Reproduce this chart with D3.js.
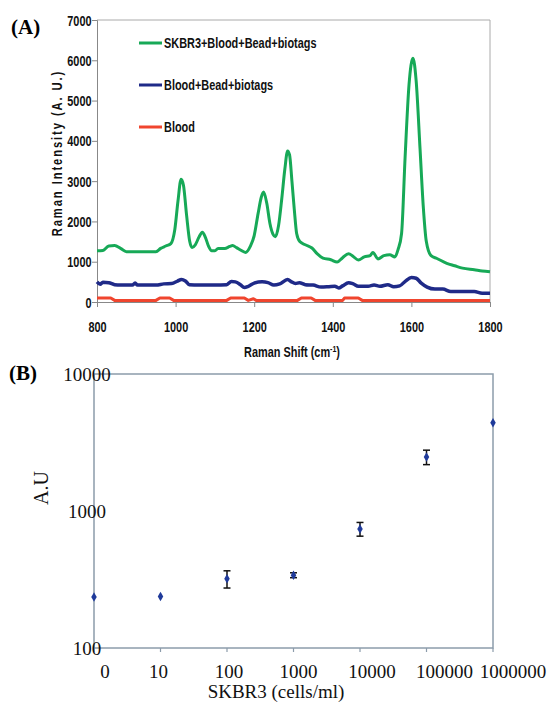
<!DOCTYPE html>
<html>
<head>
<meta charset="utf-8">
<script src="https://cdn.jsdelivr.net/npm/d3@7.9.0/dist/d3.min.js"></script>
<style>
  body { margin: 0; background: #fff; }
  .narrow { font-family: "Liberation Sans", Arial, sans-serif; font-weight: bold; }
  .serif { font-family: "Liberation Serif", "Times New Roman", serif; }
</style>
</head>
<body>
<svg id="chart" width="552" height="704"></svg>
<script>
// ---- panel A: Raman spectra ----
const skbr3Shift = [800, 815, 830, 845, 860, 875, 900, 950, 962, 975, 988, 998, 1006, 1014, 1020, 1028, 1036, 1042, 1050, 1060, 1068, 1076, 1084, 1092, 1100, 1108, 1125, 1138, 1145, 1155, 1165, 1178, 1190, 1200, 1210, 1218, 1224, 1232, 1240, 1248, 1254, 1262, 1270, 1278, 1285, 1290, 1296, 1302, 1308, 1316, 1330, 1347, 1360, 1375, 1395, 1411, 1425, 1440, 1452, 1465, 1480, 1495, 1502, 1515, 1530, 1545, 1558, 1566, 1575, 1584, 1594, 1604, 1612, 1622, 1630, 1638, 1650, 1665, 1690, 1710, 1730, 1760, 1780, 1800];
const skbr3Val = [1270, 1280, 1390, 1400, 1330, 1250, 1250, 1250, 1330, 1390, 1450, 1800, 2500, 3050, 2900, 2150, 1500, 1350, 1420, 1620, 1730, 1600, 1380, 1270, 1270, 1330, 1330, 1380, 1400, 1350, 1290, 1230, 1380, 1650, 2200, 2600, 2730, 2450, 1950, 1680, 1620, 1900, 2550, 3300, 3750, 3650, 3000, 2300, 1700, 1500, 1420, 1340, 1200, 1090, 1050, 990, 1100, 1200, 1130, 1040, 1120, 1150, 1230, 1070, 1150, 1170, 1120, 1300, 1700, 3600, 5400, 6050, 5500, 3800, 2400, 1500, 1150, 1080, 960, 900, 840, 800, 770, 750];

const beadShift = [800, 808, 815, 830, 845, 860, 890, 897, 903, 950, 970, 990, 1005, 1015, 1025, 1035, 1060, 1100, 1130, 1142, 1152, 1165, 1175, 1185, 1200, 1220, 1235, 1250, 1265, 1285, 1295, 1305, 1315, 1330, 1350, 1370, 1390, 1405, 1415, 1425, 1440, 1452, 1465, 1490, 1505, 1520, 1540, 1555, 1570, 1585, 1600, 1612, 1625, 1640, 1660, 1680, 1700, 1720, 1760, 1780, 1800];
const beadVal = [500, 440, 490, 480, 430, 420, 420, 470, 420, 420, 450, 460, 520, 560, 520, 430, 420, 420, 430, 510, 500, 430, 360, 390, 470, 500, 480, 420, 450, 560, 500, 460, 480, 430, 420, 370, 380, 390, 350, 400, 480, 450, 390, 390, 420, 390, 430, 380, 400, 520, 610, 590, 470, 370, 320, 320, 260, 260, 260, 220, 220];

const bloodShift = [800, 835, 845, 950, 960, 985, 995, 1130, 1140, 1175, 1185, 1198, 1205, 1310, 1320, 1345, 1355, 1425, 1430, 1465, 1475, 1800];
const bloodVal = [100, 100, 40, 40, 100, 100, 40, 40, 100, 100, 40, 80, 40, 40, 100, 100, 40, 40, 100, 100, 40, 40];

const seriesNames = ["SKBR3+Blood+Bead+biotags", "Blood+Bead+biotags", "Blood"];
const seriesColors = ["#17a957", "#1f2a88", "#f0452e"];
const yTicksA = [0, 1000, 2000, 3000, 4000, 5000, 6000, 7000];
const xTicksA = [800, 1000, 1200, 1400, 1600, 1800];

// ---- panel B: calibration ----
const cellConc = [1, 10, 100, 1000, 10000, 100000, 1000000];
const cellLabels = ["0", "10", "100", "1000", "10000", "100000", "1000000"];
const auMean = [236, 238, 320, 340, 740, 2480, 4400];
const auErr = [0, 0, 46, 14, 85, 300, 0];
const yTicksB = [100, 1000, 10000];

const svg = d3.select("#chart");
const squeeze = "scale(0.78,1)";

// ===== Panel A =====
const xA = d3.scaleLinear().domain([800, 1800]).range([97, 490]);
const yA = d3.scaleLinear().domain([0, 7000]).range([302, 20]);

// frame
svg.append("line").attr("x1", 97).attr("x2", 490).attr("y1", 20).attr("y2", 20).attr("stroke", "#aaa");
svg.append("line").attr("x1", 490).attr("x2", 490).attr("y1", 20).attr("y2", 302).attr("stroke", "#aaa");

const axA_y = svg.append("g").attr("transform", "translate(97,0)")
  .call(d3.axisLeft(yA).tickValues(yTicksA).tickSize(5).tickFormat(d3.format("d")));
const axA_x = svg.append("g").attr("transform", "translate(0,302)")
  .call(d3.axisBottom(xA).tickValues(xTicksA).tickSize(5).tickFormat(d3.format("d")));
[axA_y, axA_x].forEach(g => {
  g.selectAll("path, line").attr("stroke", "#888");
  g.selectAll("text").attr("class", "narrow").attr("font-size", 14).attr("fill", "#111")
    .attr("transform", squeeze);
});
axA_x.selectAll("text").attr("dy", "1.55em");
axA_y.selectAll("text").attr("x", -7).attr("dy", "0.36em");

const lineA = d3.line().x(d => xA(d[0])).y(d => yA(d[1])).curve(d3.curveMonotoneX);
const stepA = d3.line().x(d => xA(d[0])).y(d => yA(d[1]));
const specs = [
  [bloodShift, bloodVal, 2],
  [beadShift, beadVal, 1],
  [skbr3Shift, skbr3Val, 0]
];
specs.forEach(([xs, vs, i]) => {
  svg.append("path")
    .datum(xs.map((x, k) => [x, vs[k]]))
    .attr("d", i === 2 ? stepA : lineA)
    .attr("fill", "none")
    .attr("stroke", seriesColors[i])
    .attr("stroke-width", i === 1 ? 3.5 : 3)
    .attr("stroke-linejoin", "round");
});

// legend
seriesNames.forEach((name, i) => {
  const y = 43 + i * 42;
  svg.append("line").attr("x1", 139).attr("x2", 162).attr("y1", y).attr("y2", y)
    .attr("stroke", seriesColors[i]).attr("stroke-width", 3);
  svg.append("text").attr("class", "narrow")
    .attr("transform", `translate(164,${y + 5}) ${squeeze}`)
    .attr("font-size", 14).attr("fill", "#111").text(name);
});

svg.append("text").attr("class", "narrow")
  .attr("transform", "translate(62,153) rotate(-90) scale(0.8,1)")
  .attr("text-anchor", "middle").attr("font-size", 14).attr("letter-spacing", 2.4)
  .attr("fill", "#111").text("Raman Intensity (A. U.)");

const xt = svg.append("text").attr("class", "narrow")
  .attr("transform", `translate(292,357) ${squeeze}`)
  .attr("text-anchor", "middle").attr("font-size", 14).attr("fill", "#111");
xt.append("tspan").text("Raman Shift (cm");
xt.append("tspan").attr("font-size", 9).attr("dy", -5).text("-1");
xt.append("tspan").attr("dy", 5).text(")");

svg.append("text").attr("class", "serif").attr("x", 11).attr("y", 34)
  .attr("font-size", 21).attr("font-weight", "bold").text("(A)");

// ===== Panel B =====
const xB = d3.scaleLog().domain([1, 1000000]).range([94, 493]);
const yB = d3.scaleLog().domain([100, 10000]).range([648, 374]);
const frameColor = "#8c9cab";

svg.append("rect").attr("x", 94).attr("y", 374).attr("width", 399).attr("height", 274)
  .attr("fill", "none").attr("stroke", frameColor).attr("stroke-width", 1.5);

svg.append("g").selectAll("line").data(cellConc).join("line")
  .attr("x1", d => xB(d)).attr("x2", d => xB(d)).attr("y1", 648).attr("y2", 652)
  .attr("stroke", frameColor).attr("stroke-width", 1.2);

const labelShift = [11, -2, 2, 5, 12, 18, 20];
svg.append("g").selectAll("text").data(cellConc).join("text")
  .attr("class", "serif").attr("x", (d, i) => xB(d) + labelShift[i]).attr("y", 678)
  .attr("text-anchor", "middle").attr("font-size", 19).attr("fill", "#111")
  .text((d, i) => cellLabels[i]);

svg.append("g").selectAll("text").data(yTicksB).join("text")
  .attr("class", "serif").attr("x", 87).attr("y", d => yB(d) + 7)
  .attr("text-anchor", "middle").attr("font-size", 19).attr("fill", "#111")
  .text(d => d);

// error bars
const pts = cellConc.map((c, i) => ({ c, m: auMean[i], e: auErr[i] }));
const eb = svg.append("g").selectAll("g").data(pts.filter(d => d.e > 0)).join("g");
eb.append("line").attr("x1", d => xB(d.c)).attr("x2", d => xB(d.c))
  .attr("y1", d => yB(d.m + d.e)).attr("y2", d => yB(d.m - d.e)).attr("stroke", "#111").attr("stroke-width", 1.5);
eb.append("line").attr("x1", d => xB(d.c) - 3.5).attr("x2", d => xB(d.c) + 3.5)
  .attr("y1", d => yB(d.m + d.e)).attr("y2", d => yB(d.m + d.e)).attr("stroke", "#111").attr("stroke-width", 1.5);
eb.append("line").attr("x1", d => xB(d.c) - 3.5).attr("x2", d => xB(d.c) + 3.5)
  .attr("y1", d => yB(d.m - d.e)).attr("y2", d => yB(d.m - d.e)).attr("stroke", "#111").attr("stroke-width", 1.5);

svg.append("g").selectAll("path").data(pts).join("path")
  .attr("transform", d => `translate(${xB(d.c)},${yB(d.m)})`)
  .attr("d", d3.symbol(d3.symbolDiamond, 26))
  .attr("fill", "#1f3a9a");

svg.append("text").attr("class", "serif")
  .attr("transform", "translate(48,488) rotate(-90)")
  .attr("text-anchor", "middle").attr("font-size", 20).attr("fill", "#111").text("A.U");

svg.append("text").attr("class", "serif").attr("x", 276).attr("y", 698)
  .attr("text-anchor", "middle").attr("font-size", 19).attr("fill", "#111").text("SKBR3 (cells/ml)");

svg.append("text").attr("class", "serif").attr("x", 9).attr("y", 380)
  .attr("font-size", 21).attr("font-weight", "bold").text("(B)");
</script>
</body>
</html>
